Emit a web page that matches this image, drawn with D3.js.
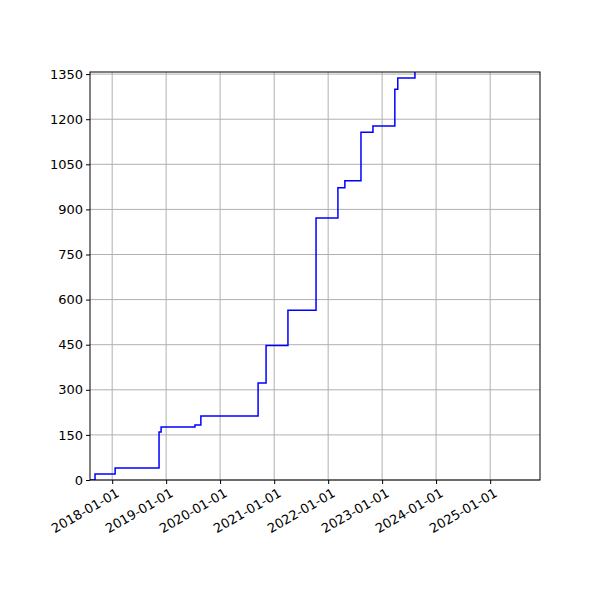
<!DOCTYPE html>
<html><head><meta charset="utf-8">
<script src="https://cdn.jsdelivr.net/npm/d3@7"></script>
<style>body{margin:0;background:#fff}text{font-family:"DejaVu Sans",sans-serif}</style>
</head><body><svg id="c" width="600" height="600"></svg>
<script>
// step points: date where the count changes, and the new count
const dates = ["2017-08-04","2017-09-07","2018-01-21","2018-11-14","2018-11-28","2019-07-15","2019-08-24",
  "2020-09-14","2020-11-07","2021-04-04","2021-10-11","2022-03-08","2022-04-24","2022-08-11",
  "2022-10-31","2023-03-28","2023-04-17","2023-08-11"];
const counts = [0,20,40,160,176,183,213,323,447,565,871,972,995,1157,1177,1300,1337,1420];
const yTicks = [0,150,300,450,600,750,900,1050,1200,1350];
const xTicks = ["2018-01-01","2019-01-01","2020-01-01","2021-01-01","2022-01-01","2023-01-01","2024-01-01","2025-01-01"];

const parse = d3.utcParse("%Y-%m-%d");
const data = dates.map((d, i) => ({ date: parse(d), v: counts[i] }));
const m = { l: 90, r: 540, t: 72, b: 480 };
const svg = d3.select("#c");
const x = d3.scaleUtc().domain([parse("2017-08-04"), parse("2025-12-04")]).range([m.l, m.r]);
const y = d3.scaleLinear().domain([0, 1357]).range([m.b, m.t]);

const grid = svg.append("g").attr("stroke", "#b0b0b0").attr("stroke-width", 1);
grid.selectAll(".gx").data(xTicks).join("line")
  .attr("x1", (d) => x(parse(d))).attr("x2", (d) => x(parse(d))).attr("y1", m.t).attr("y2", m.b);
grid.selectAll(".gy").data(yTicks).join("line")
  .attr("y1", (d) => y(d)).attr("y2", (d) => y(d)).attr("x1", m.l).attr("x2", m.r);

svg.append("clipPath").attr("id", "clip").append("rect")
  .attr("x", m.l).attr("y", m.t).attr("width", m.r - m.l).attr("height", m.b - m.t);
svg.append("path").datum(data).attr("clip-path", "url(#clip)")
  .attr("fill", "none").attr("stroke", "blue").attr("stroke-width", 1.5)
  .attr("d", d3.line().curve(d3.curveStepAfter).x((d) => x(d.date)).y((d) => y(d.v)));

svg.append("rect").attr("x", m.l).attr("y", m.t).attr("width", m.r - m.l).attr("height", m.b - m.t)
  .attr("fill", "none").attr("stroke", "#000").attr("stroke-width", 1);

const ax = svg.append("g").attr("transform", `translate(0,${m.b})`)
  .call(d3.axisBottom(x).tickValues(xTicks.map(parse)).tickFormat(d3.utcFormat("%Y-%m-%d")).tickSize(4).tickPadding(3));
ax.select(".domain").remove();
ax.selectAll("text").attr("font-size", 13).attr("fill", "#000")
  .attr("text-anchor", "end").attr("transform", "rotate(-30)").attr("dx", "-0.1em").attr("dy", "0.8em");

const ay = svg.append("g").attr("transform", `translate(${m.l},0)`)
  .call(d3.axisLeft(y).tickValues(yTicks).tickFormat(d3.format("d")).tickSize(4).tickPadding(3));
ay.select(".domain").remove();
ay.selectAll("text").attr("font-size", 13).attr("fill", "#000");
</script></body></html>
